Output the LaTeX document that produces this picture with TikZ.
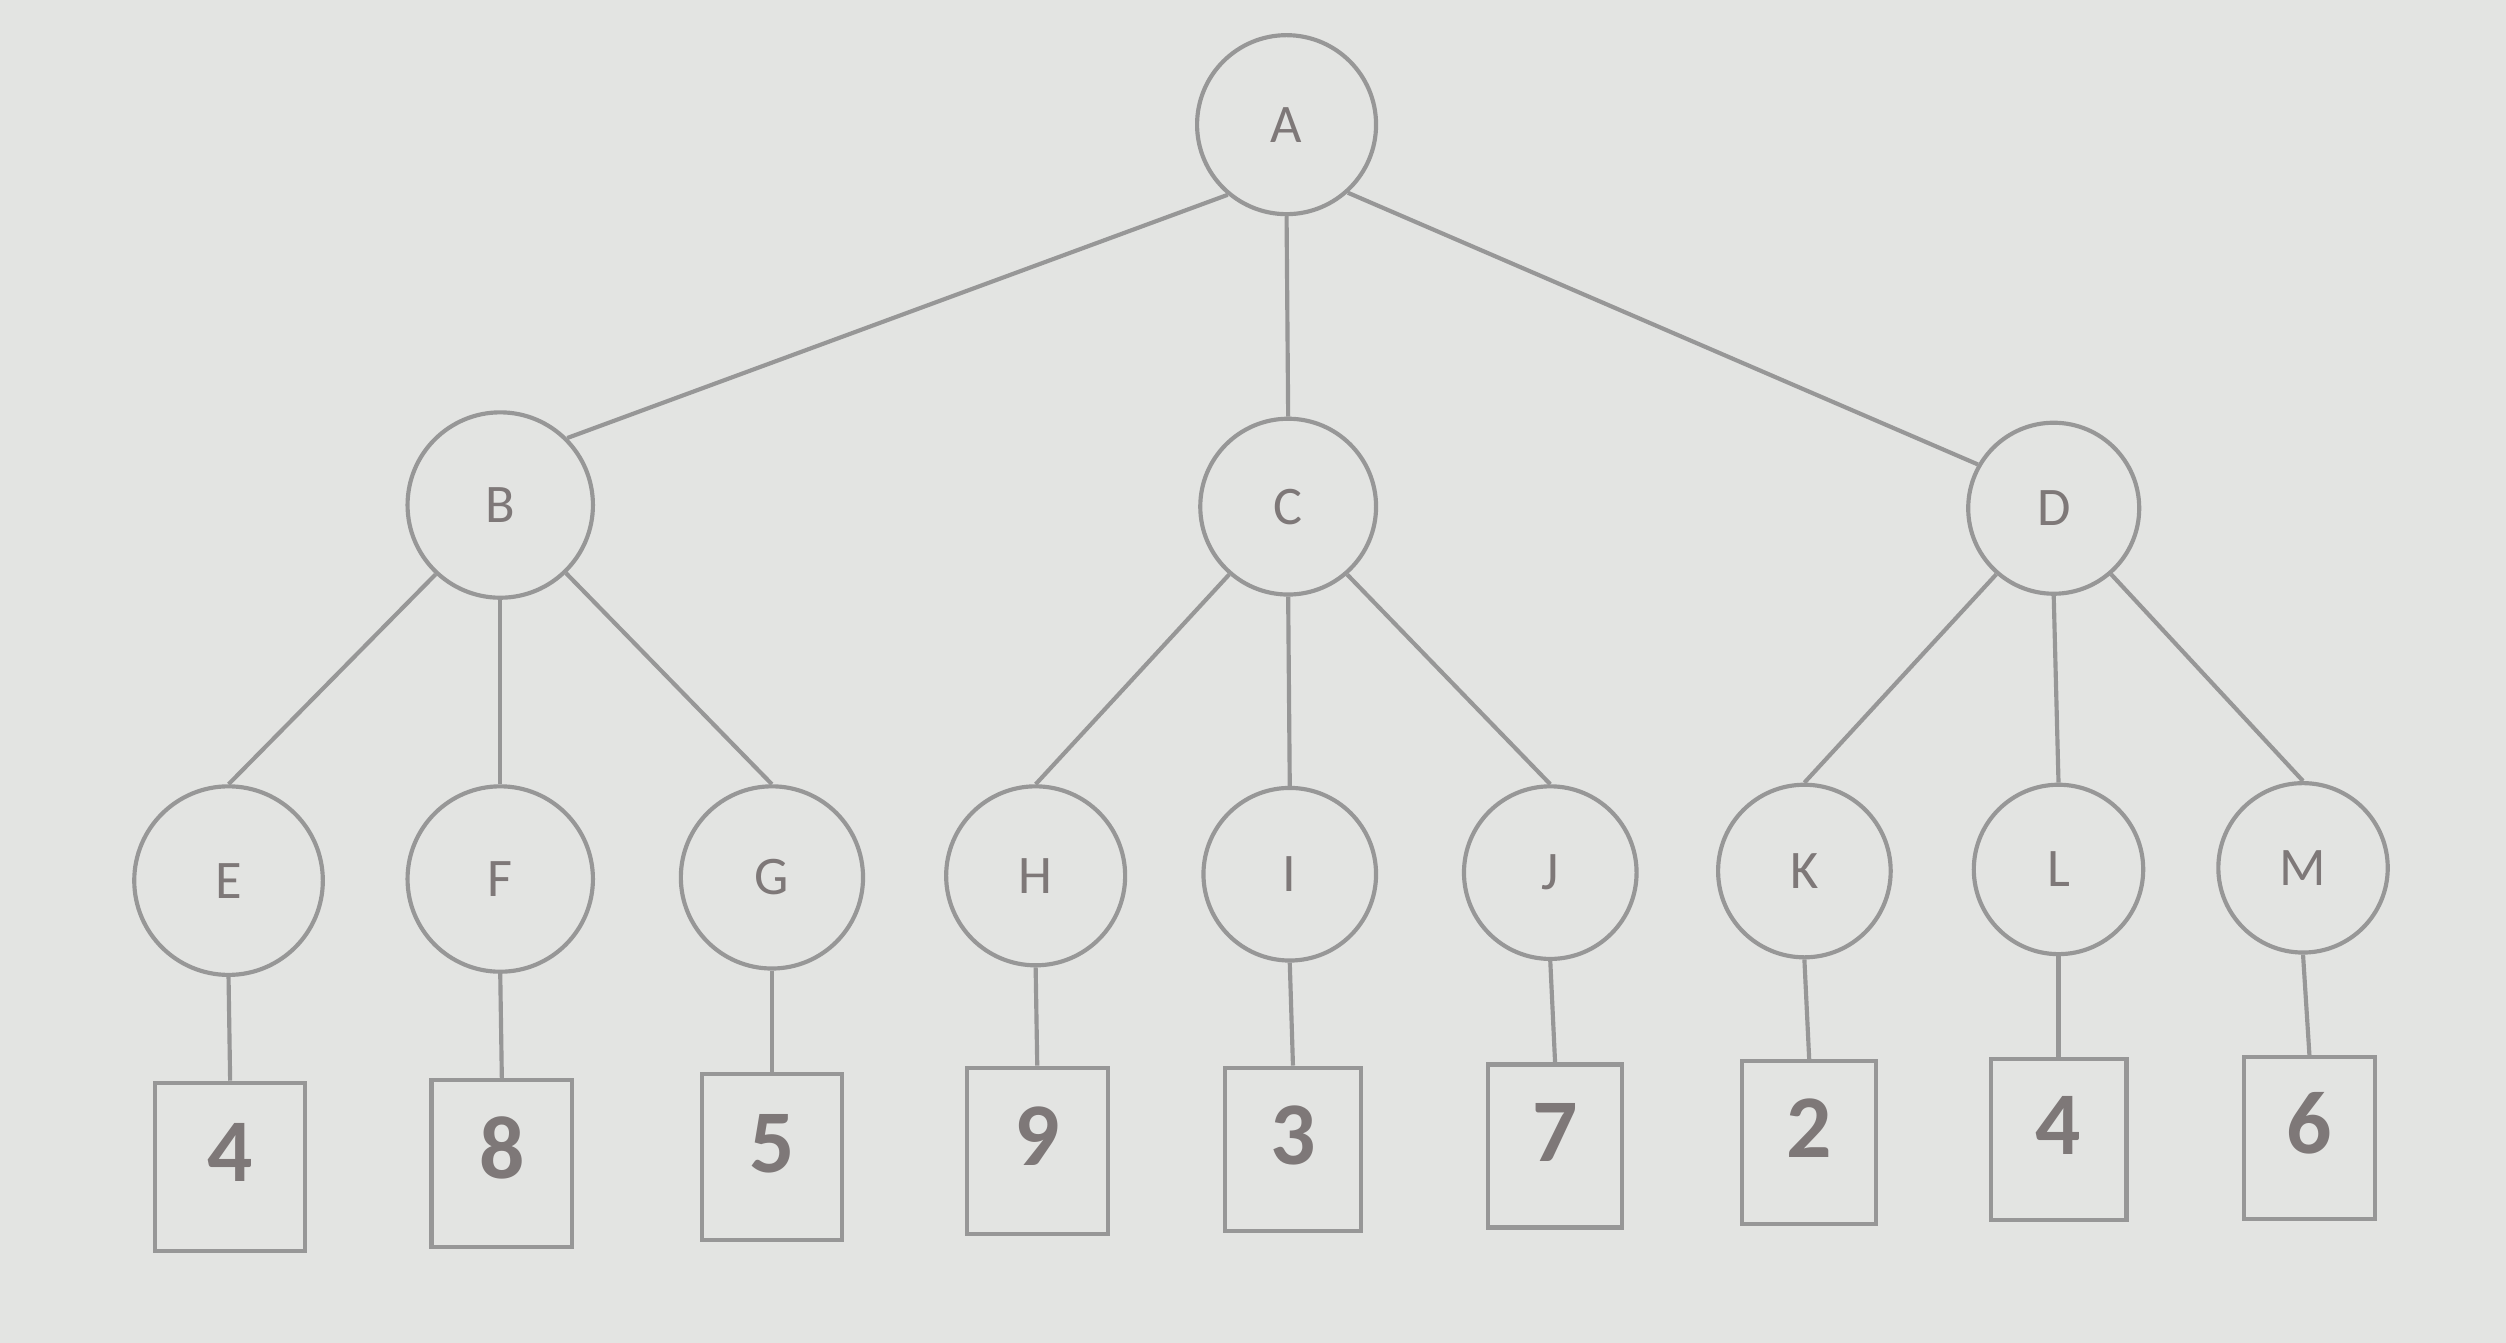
\documentclass[tikz,border=0pt]{standalone}
\usepackage{fontspec}
\setmainfont{Carlito}

\definecolor{paper}{HTML}{E3E4E2}
\definecolor{ink}{HTML}{979797}
\definecolor{lettering}{HTML}{7E7878}

\begin{document}
\begin{tikzpicture}[x=1pt,y=-1pt,
  vertex/.style={circle, draw=ink, line width=2.6pt, inner sep=0pt,
    font=\fontsize{34}{34}\selectfont, text=lettering},
  leafbox/.style={rectangle, draw=ink, line width=2.6pt, inner sep=0pt,
    text height=37pt, text depth=18pt,
    font=\bfseries\fontsize{56}{56}\selectfont, text=lettering},
  edge/.style={draw=ink, line width=2.6pt}]

% Paper background (fixes the picture size)
\fill[paper] (0,0) rectangle (1568,840);

% Root
\node[vertex, minimum size=112pt] (A) at (805,78) {A};

% Second level
\foreach \name/\x/\y/\d/\from/\to in {B/313/316/116/230/45, C/806/317/110/270/90, D/1285/318/107/312/150}{
  \node[vertex, minimum size=\d pt] (\name) at (\x,\y) {\name};
  \draw[edge] (A.\from) -- (\name.\to);
}

% Third level
\foreach \name/\x/\y/\d/\parent/\from in {E/143/551/118/B/227, F/313/550/116/B/270, G/483/549/114/B/314,
    H/648/548/112/C/229, I/807/547/108/C/270, J/970/546/108/C/311,
    K/1129/545/108/D/229, L/1288/544/106/D/270, M/1441/543/106/D/311}{
  \node[vertex, minimum size=\d pt] (\name) at (\x,\y) {\name};
  \draw[edge] (\parent.\from) -- (\name.north);
}

% Leaf values
\foreach \parent/\x/\y/\w/\h/\val in {E/144/730/94/105/4, F/314/728/88/104/8, G/483/724/88/104/5,
    H/649/720/88/104/9, I/809/719/85/102/3, J/973/717/84/102/7,
    K/1132/715/84/102/2, L/1288/713/85/101/4, M/1445/712/82/101/6}{
  \node[leafbox, minimum width=\w pt, minimum height=\h pt] (leaf\parent) at (\x,\y) {\val};
  \draw[edge] (\parent.south) -- (leaf\parent.north);
}

\end{tikzpicture}
\end{document}
